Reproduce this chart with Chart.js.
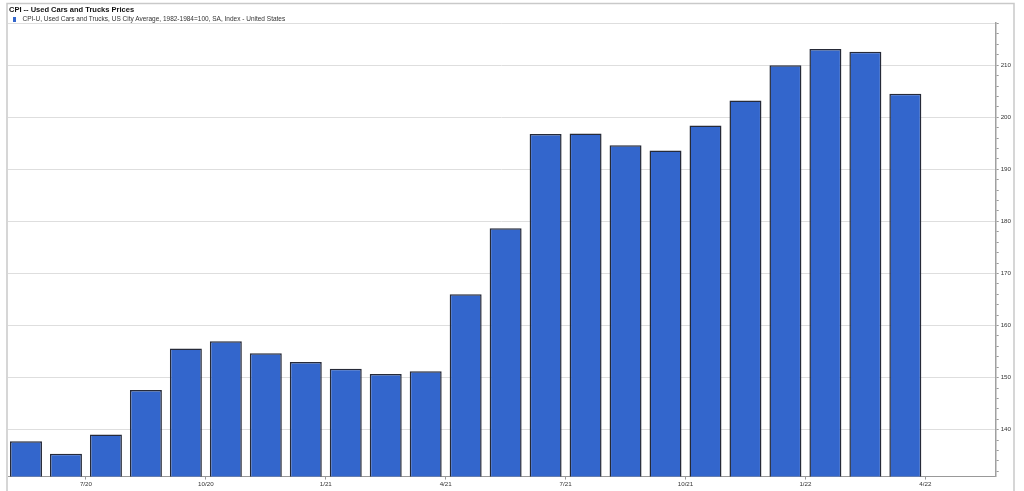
<!DOCTYPE html>
<html>
<head>
<meta charset="utf-8">
<script src="https://cdn.jsdelivr.net/npm/chart.js@4/dist/chart.umd.min.js"></script>
<style>
  html, body { margin: 0; padding: 0; background: #fff; }
  #wrap { position: relative; width: 1024px; height: 491px; }
  #title { position: absolute; left: 9px; top: 5px; font: bold 7.5px/9px "Liberation Sans", Arial, sans-serif; color: #111; }
  #legend { position: absolute; left: 13px; top: 15px; font: 6.5px/8px "Liberation Sans", Arial, sans-serif; color: #333; white-space: nowrap; }
  #legend i { display: inline-block; width: 2.5px; height: 5px; background: #3366cc; margin-right: 7px; vertical-align: -0.5px; }
</style>
</head>
<body>
<div id="wrap">
  <canvas id="cpi-chart" width="1024" height="491"></canvas>
  <div id="title">CPI -- Used Cars and Trucks Prices</div>
  <div id="legend"><i></i>CPI-U, Used Cars and Trucks, US City Average, 1982-1984=100, SA, Index - United States</div>
</div>
<script>
const months = ["5/20", "6/20", "7/20", "8/20", "9/20", "10/20", "11/20", "12/20",
  "1/21", "2/21", "3/21", "4/21", "5/21", "6/21", "7/21", "8/21", "9/21", "10/21",
  "11/21", "12/21", "1/22", "2/22", "3/22"]
const values = [137.8, 135.4, 139.1, 147.6, 155.6, 157.0, 154.7, 153.0,
  151.7, 150.7, 151.2, 166.0, 178.7, 196.8, 196.9, 194.6, 193.6, 198.4,
  203.2, 210.0, 213.1, 212.6, 204.5]
const xTickLabels = ["7/20", "10/20", "1/21", "4/21", "7/21", "10/21", "1/22", "4/22"]
const yTickLabels = [140, 150, 160, 170, 180, 190, 200, 210]

// ticks sit on the month boundary (start of the month)
const tickPos = (lab) => {
  const i = months.indexOf(lab)
  return (i < 0 ? months.length : i) - 0.5
}

const frame = {
  id: 'frame',
  beforeDraw: (chart) => {
    const {ctx, chartArea} = chart
    ctx.save()
    ctx.fillStyle = '#fff'
    ctx.fillRect(0, 0, chart.width, chart.height)
    ctx.strokeStyle = '#c9c9c9'
    ctx.lineWidth = 1.5
    ctx.strokeRect(7, 3.5, 1007, 500)
    ctx.strokeStyle = '#dedede'
    ctx.lineWidth = 1
    ctx.beginPath()
    ctx.moveTo(chartArea.left, chartArea.top + 0.5)
    ctx.lineTo(chartArea.right, chartArea.top + 0.5)
    ctx.stroke()
    ctx.restore()
  }
}

new Chart(document.getElementById("cpi-chart"), {
  type: "bar",
  data: {
    datasets: [{
      label: "CPI-U, Used Cars and Trucks",
      data: values.map((v, i) => ({x: i, y: v})),
      backgroundColor: "#3366cc",
      borderColor: "#262a38",
      borderWidth: 1.5,
      barPercentage: 0.8,
      categoryPercentage: 1
    }]
  },
  options: {
    responsive: false,
    animation: false,
    layout: {
      padding: {left: 8, right: 11, top: 23, bottom: 2}
    },
    plugins: {
      legend: {display: false},
      title: {display: false},
      tooltip: {enabled: false}
    },
    scales: {
      x: {
        type: "linear",
        offset: false,
        min: -0.45,
        max: 24.26,
        afterBuildTicks: (scale) => {
          scale.ticks = xTickLabels.map((l) => ({value: tickPos(l)}))
        },
        ticks: {
          autoSkip: false,
          maxRotation: 0,
          padding: 1,
          color: "#333",
          font: {family: "Liberation Sans", size: 6.2},
          callback: (v) => xTickLabels[xTickLabels.map(tickPos).indexOf(v)]
        },
        grid: {offset: false, drawOnChartArea: false, drawTicks: true, tickLength: 3, tickColor: "#999"},
        border: {color: "#999", width: 1}
      },
      y: {
        position: "right",
        min: 131,
        max: 218.1,
        afterBuildTicks: (scale) => {
          const t = []
          for (let v = 132; v <= 218; v += 2) t.push({value: v})
          scale.ticks = t
        },
        ticks: {
          padding: 2,
          color: "#333",
          font: {family: "Liberation Sans", size: 6.2},
          callback: (v) => yTickLabels.includes(v) ? v : ""
        },
        grid: {
          tickLength: 3,
          color: (c) => yTickLabels.includes(c.tick && c.tick.value) ? "#dedede" : "rgba(0,0,0,0)",
          tickColor: "#999"
        },
        border: {color: "#a0a0a0", width: 1.5}
      }
    }
  },
  plugins: [frame]
})
</script>
</body>
</html>
